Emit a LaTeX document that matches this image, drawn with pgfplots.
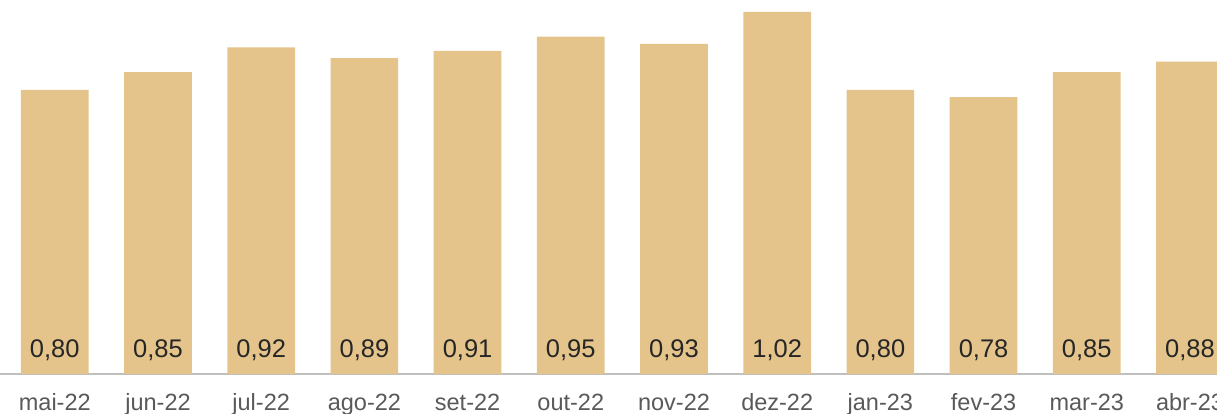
\documentclass[border=0pt]{standalone}
\usepackage{pgfplots}
\pgfplotsset{compat=1.18}
\usepackage{pgfplotstable}
\usepackage{fontspec}
\setmainfont{Liberation Sans}
\definecolor{barc}{HTML}{E4C48A}
\definecolor{axc}{HTML}{BFBFBF}
\definecolor{tickc}{HTML}{595959}
\definecolor{valc}{HTML}{262626}
\pgfplotstableread{
x y lab
0 0.80 0,80
1 0.85 0,85
2 0.92 0,92
3 0.89 0,89
4 0.91 0,91
5 0.95 0,95
6 0.93 0,93
7 1.02 1,02
8 0.80 0,80
9 0.78 0,78
10 0.85 0,85
11 0.88 0,88
}\data
\begin{document}
\begin{tikzpicture}
\begin{axis}[
  at={(0,0)}, anchor=south west,
  scale only axis,
  width=1217bp, height=374bp,
  xmin=-0.531, xmax=11.262,
  ymin=0, ymax=1.0535,
  axis y line=none,
  axis x line*=bottom,
  x axis line style={draw=axc, line width=1.5bp, -},
  xtick=data,
  xticklabels={mai-22,jun-22,jul-22,ago-22,set-22,out-22,nov-22,dez-22,jan-23,fev-23,mar-23,abr-23},
  major tick length=0pt,
  xticklabel style={font=\fontsize{23.5bp}{26bp}\selectfont, text=tickc, anchor=base, yshift=-36bp},
  clip=true,
]
\addplot[ybar, bar width=67.7bp, fill=barc, draw=none] table[x=x, y=y] {\data};
\addplot[draw=none, mark=none, nodes near coords, point meta=explicit symbolic,
  every node near coord/.style={anchor=base, yshift=17bp, font=\fontsize{25.5bp}{28bp}\selectfont, text=valc, inner sep=0pt}]
  table[x=x, y expr=0, meta=lab] {\data};
\end{axis}
\pgfresetboundingbox
\useasboundingbox (0,-40bp) rectangle (1217bp,374bp);
\end{tikzpicture}
\end{document}
